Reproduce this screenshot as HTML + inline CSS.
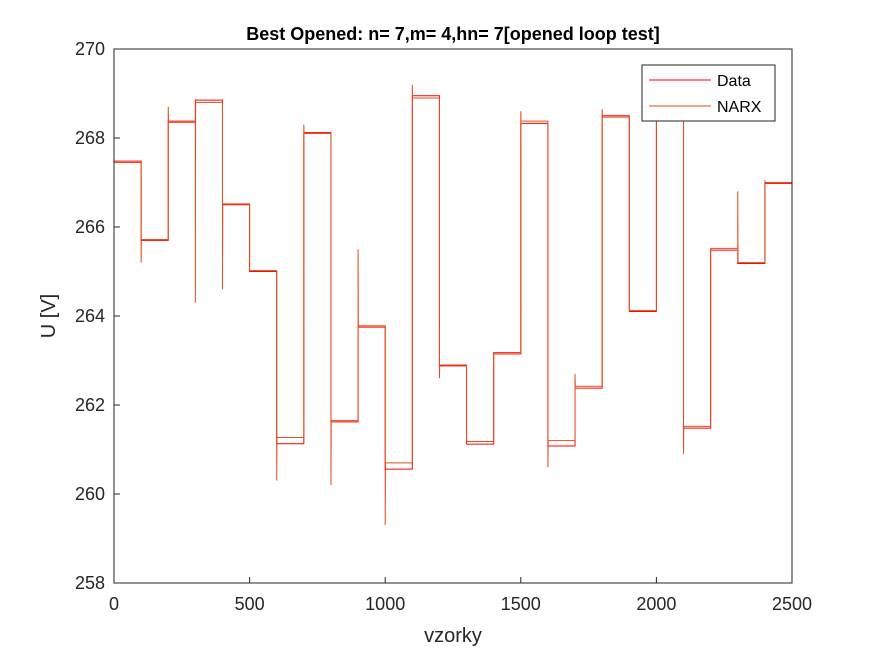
<!DOCTYPE html>
<html><head><meta charset="utf-8"><style>
body{margin:0;background:#fff;}
svg{display:block;font-family:"Liberation Sans",Arial,sans-serif;}
</style></head><body>
<svg id="chart" width="875" height="656" viewBox="0 0 875 656">
<rect x="0" y="0" width="875" height="656" fill="#fff"/>
<rect x="114" y="49" width="678" height="534" fill="#fff"/>
<g id="series"></g>
<rect x="114" y="49" width="678" height="534" fill="none" stroke="#262626" stroke-width="1"/>
<g id="ticks"></g>
<text x="453" y="40" text-anchor="middle" font-size="18" font-weight="bold" fill="#000">Best Opened: n= 7,m= 4,hn= 7[opened loop test]</text>
<text x="453" y="642" text-anchor="middle" font-size="20" fill="#262626">vzorky</text>
<text x="55" y="316" text-anchor="middle" font-size="20" fill="#262626" transform="rotate(-90 55 316)">U [V]</text>
<g>
<rect x="642" y="65" width="133" height="56" fill="#fff" stroke="#262626" stroke-width="1"/>
<line x1="649" y1="80" x2="711" y2="80" stroke="#ff0000" stroke-width="1"/>
<text x="717" y="86" font-size="16" fill="#000">Data</text>
<line x1="649" y1="106" x2="711" y2="106" stroke="#e0501a" stroke-width="1"/>
<text x="717" y="112" font-size="16" fill="#000">NARX</text>
</g>
</svg>
<script>
const xTicks=[0,500,1000,1500,2000,2500];
const yTicks=[258,260,262,264,266,268,270];
const stepStarts=[0,100,200,300,400,500,600,700,800,900,1000,1100,1200,1300,1400,1500,1600,1700,1800,1900,2000,2100,2200,2300,2400];
const dataLevels=[267.48,265.7,268.38,268.85,266.5,265.0,261.13,268.12,261.62,263.75,260.56,268.95,262.88,261.12,263.15,268.33,261.08,262.38,268.5,264.1,269.3,261.48,265.48,265.18,266.98];
const narxLevels=[267.45,265.72,268.35,268.8,266.52,265.02,261.27,268.1,261.65,263.78,260.7,268.9,262.9,261.18,263.18,268.38,261.2,262.42,268.47,264.12,269.3,261.52,265.52,265.2,267.0];
const narxSpikes=[null,265.2,268.7,264.3,264.6,null,260.3,268.3,260.2,265.5,259.3,269.2,262.6,null,null,268.6,260.6,262.7,268.65,null,null,260.9,null,266.8,267.05];
const xEnd=2500;
const X=v=>114+v/2500*678;
const Y=v=>583-(v-258)/12*534;
const NS='http://www.w3.org/2000/svg';
const tg=document.getElementById('ticks');
xTicks.forEach(t=>{
  const l=document.createElementNS(NS,'line');
  l.setAttribute('x1',X(t));l.setAttribute('x2',X(t));l.setAttribute('y1',583);l.setAttribute('y2',577);l.setAttribute('stroke','#262626');
  
  
  tg.appendChild(l);
  const tx=document.createElementNS(NS,'text');
  tx.setAttribute('x',X(t));tx.setAttribute('y',610);tx.setAttribute('text-anchor','middle');tx.setAttribute('font-size','18');tx.setAttribute('fill','#262626');
  tx.textContent=t;
  
  
  tg.appendChild(tx);
});
yTicks.forEach(t=>{
  const l=document.createElementNS(NS,'line');
  l.setAttribute('x1',114);l.setAttribute('x2',120);l.setAttribute('y1',Y(t));l.setAttribute('y2',Y(t));l.setAttribute('stroke','#262626');
  
  
  tg.appendChild(l);
  const tx=document.createElementNS(NS,'text');
  tx.setAttribute('x',105);tx.setAttribute('y',Y(t)+6);tx.setAttribute('text-anchor','end');tx.setAttribute('font-size','18');tx.setAttribute('fill','#262626');
  tx.textContent=t;
  
  
  tg.appendChild(tx);
});
function stepPath(levels,spikes){
  let d='';
  for(let i=0;i<stepStarts.length;i++){
    const s=stepStarts[i], e=i+1<stepStarts.length?stepStarts[i+1]:xEnd;
    if(i===0){d+='M'+X(s)+' '+Y(levels[i]);}
    else{
      d+=' L'+X(s)+' '+Y(levels[i-1]);
      if(spikes&&spikes[i]!=null){d+=' L'+X(s)+' '+Y(spikes[i])+' L'+X(s+1)+' '+Y(levels[i]);}
      else d+=' L'+X(s)+' '+Y(levels[i]);
    }
    d+=' L'+X(e)+' '+Y(levels[i]);
  }
  return d;
}
const sg=document.getElementById('series');
const p1=document.createElementNS(NS,'path');
p1.setAttribute('d',stepPath(dataLevels,null));p1.setAttribute('fill','none');p1.setAttribute('stroke','#ff0000');p1.setAttribute('stroke-width','1');


sg.appendChild(p1);
const p2=document.createElementNS(NS,'path');
p2.setAttribute('d',stepPath(narxLevels,narxSpikes));p2.setAttribute('fill','none');p2.setAttribute('stroke','#e0501a');p2.setAttribute('stroke-width','1');


sg.appendChild(p2);
</script>
</body></html>
